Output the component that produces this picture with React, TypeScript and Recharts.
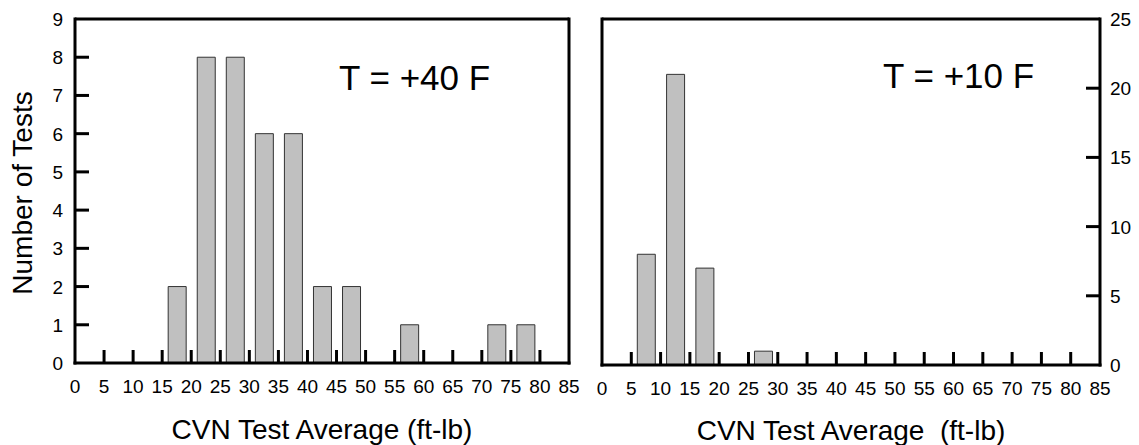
import { Bar, BarChart, ReferenceLine, XAxis, YAxis } from "recharts";

const FONT = "'Liberation Sans', Arial, Helvetica, sans-serif";

// histogram bins (ft-lb), 5 ft-lb wide, given by their centres
const binMids = [2.5, 7.5, 12.5, 17.5, 22.5, 27.5, 32.5, 37.5, 42.5, 47.5, 52.5, 57.5, 62.5, 67.5, 72.5, 77.5, 82.5];
const countsPlus40 = [0, 0, 0, 2, 8, 8, 6, 6, 2, 2, 0, 1, 0, 0, 1, 1, 0];
const countsPlus10 = [0, 8, 21, 7, 0, 1, 0, 0, 0, 0, 0, 0, 0, 0, 0, 0, 0];

const xTicks = [0, 5, 10, 15, 20, 25, 30, 35, 40, 45, 50, 55, 60, 65, 70, 75, 80, 85];
const leftYTicks = [0, 1, 2, 3, 4, 5, 6, 7, 8, 9];
const rightYTicks = [0, 5, 10, 15, 20, 25];

const X_MAX = 85;

const toRows = (counts: number[]) =>
  binMids.map((mid, i) => ({ mid, count: counts[i] })).filter((r) => r.count > 0);

const rows40 = toRows(countsPlus40);
const rows10 = toRows(countsPlus10);

const axisLine = { stroke: "#000", strokeWidth: 3, strokeLinecap: "square" as const };

const BottomTick = (props: any) => {
  const { x, y, payload } = props;
  const v = payload.value;
  return (
    <g>
      {v > 0 && v < X_MAX && (
        <line x1={x} x2={x} y1={y} y2={y - 13} stroke="#000" strokeWidth={3} />
      )}
      <text x={x} y={y + 30} textAnchor="middle" fontSize={19} fontFamily={FONT} fill="#000">
        {v}
      </text>
    </g>
  );
};

const makeYTick = (side: "left" | "right", showLabel: boolean, max: number) => (props: any) => {
  const { x, y, payload } = props;
  const v = payload.value;
  const dir = side === "left" ? 1 : -1;
  return (
    <g>
      {v > 0 && v < max && (
        <line x1={x} x2={x + dir * 14} y1={y} y2={y} stroke="#000" strokeWidth={3} />
      )}
      {showLabel && (
        <text
          x={side === "left" ? x - 12 : x + 10}
          y={y + 7}
          textAnchor={side === "left" ? "end" : "start"}
          fontSize={19}
          fontFamily={FONT}
          fill="#000"
        >
          {v}
        </text>
      )}
    </g>
  );
};

const xTitle = (text: string, dy: number) => (props: any) => {
  const vb = props.viewBox;
  return (
    <text
      x={vb.x + vb.width / 2}
      y={vb.y + dy}
      textAnchor="middle"
      fontSize={28}
      fontFamily={FONT}
      fill="#000"
      style={{ whiteSpace: "pre" }}
    >
      {text}
    </text>
  );
};

const yTitle = (props: any) => {
  const vb = props.viewBox;
  const cx = vb.x + 22;
  const cy = vb.y + vb.height / 2 + 2;
  return (
    <text
      x={cx}
      y={cy}
      transform={`rotate(-90, ${cx}, ${cy})`}
      textAnchor="middle"
      dominantBaseline="central"
      fontSize={28}
      fontFamily={FONT}
      fill="#000"
    >
      Number of Tests
    </text>
  );
};

const tempNote = (text: string, dx: number, dy: number) => (props: any) => {
  const vb = props.viewBox;
  return (
    <text x={vb.x + dx} y={vb.y + dy} fontSize={35} fontFamily={FONT} fill="#000">
      {text}
    </text>
  );
};

export default function App() {
  return (
    <div style={{ position: "absolute", left: 0, top: 0, width: 1139, height: 445, background: "#fff" }}>
      <div style={{ position: "absolute", left: 0, top: 0 }}>
        <BarChart width={600} height={445} data={rows40} margin={{ top: 19, right: 11, bottom: 42, left: 0 }}>
          <XAxis
            dataKey="mid"
            type="number"
            domain={[0, X_MAX]}
            ticks={xTicks}
            interval={0}
            height={40}
            tickSize={0}
            tickMargin={0}
            tickLine={false}
            axisLine={axisLine}
            tick={BottomTick}
            label={xTitle("CVN Test Average (ft-lb)", 76)}
          />
          <YAxis
            yAxisId="l"
            domain={[0, 9]}
            ticks={leftYTicks}
            interval={0}
            width={75}
            tickSize={0}
            tickMargin={0}
            tickLine={false}
            axisLine={axisLine}
            tick={makeYTick("left", true, 9)}
            label={yTitle}
          />
          <YAxis
            yAxisId="r"
            orientation="right"
            domain={[0, 9]}
            ticks={leftYTicks}
            interval={0}
            width={20}
            tickSize={0}
            tickMargin={0}
            tickLine={false}
            axisLine={axisLine}
            tick={makeYTick("right", false, 9)}
          />
          <ReferenceLine
            yAxisId="l"
            y={9}
            stroke="#000"
            strokeWidth={3}
            label={tempNote("T = +40 F", 264, 71)}
          />
          <Bar
            yAxisId="l"
            dataKey="count"
            fill="#c0c0c0"
            stroke="#333"
            strokeWidth={1}
            barSize={18}
            isAnimationActive={false}
          />
        </BarChart>
      </div>
      <div style={{ position: "absolute", left: 560, top: 0 }}>
        <BarChart width={579} height={445} data={rows10} margin={{ top: 19, right: 0, bottom: 40, left: 0 }}>
          <XAxis
            dataKey="mid"
            type="number"
            domain={[0, X_MAX]}
            ticks={xTicks}
            interval={0}
            height={40}
            tickSize={0}
            tickMargin={0}
            tickLine={false}
            axisLine={axisLine}
            tick={BottomTick}
            label={xTitle("CVN Test Average  (ft-lb)", 75)}
          />
          <YAxis
            yAxisId="l"
            domain={[0, 25]}
            ticks={rightYTicks}
            interval={0}
            width={42}
            tickSize={0}
            tickMargin={0}
            tickLine={false}
            axisLine={axisLine}
            tick={makeYTick("left", false, 25)}
          />
          <YAxis
            yAxisId="r"
            orientation="right"
            domain={[0, 25]}
            ticks={rightYTicks}
            interval={0}
            width={39}
            tickSize={0}
            tickMargin={0}
            tickLine={false}
            axisLine={axisLine}
            tick={makeYTick("right", true, 25)}
          />
          <ReferenceLine
            yAxisId="r"
            y={25}
            stroke="#000"
            strokeWidth={3}
            label={tempNote("T = +10 F", 281, 69)}
          />
          <Bar
            yAxisId="r"
            dataKey="count"
            fill="#c0c0c0"
            stroke="#333"
            strokeWidth={1}
            barSize={18}
            isAnimationActive={false}
          />
        </BarChart>
      </div>
    </div>
  );
}
